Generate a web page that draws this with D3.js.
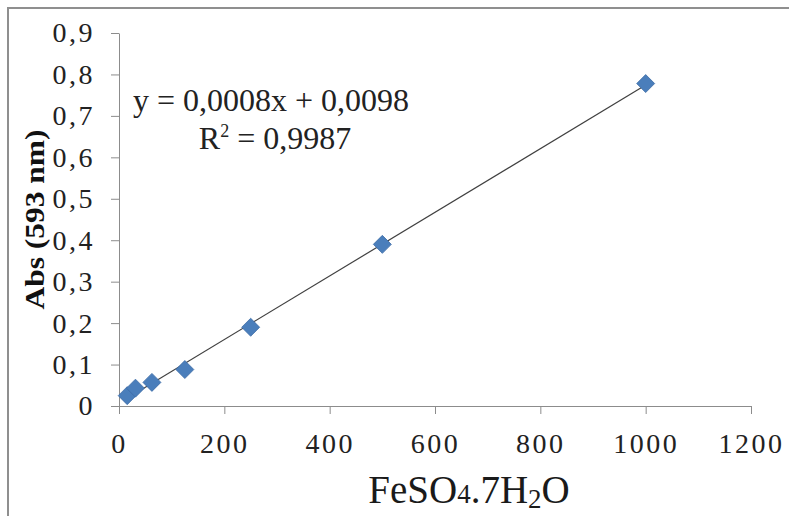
<!DOCTYPE html>
<html>
<head>
<meta charset="utf-8">
<script src="https://cdn.jsdelivr.net/npm/d3@7"></script>
<style>
  body { margin: 0; background: #fff; }
  svg text { font-family: "Liberation Serif", serif; }
</style>
</head>
<body>
<svg class="chart" width="789" height="516"></svg>
<script>
// datos (curva de calibracion FeSO4)
const concentraciones = [15.6, 31.25, 62.5, 125, 250, 500, 1000]
const absorbancias = [0.025, 0.043, 0.057, 0.088, 0.19, 0.39, 0.778]
const xTicks = [0, 200, 400, 600, 800, 1000, 1200]
const yTicks = [0, 0.1, 0.2, 0.3, 0.4, 0.5, 0.6, 0.7, 0.8, 0.9]
const ecuacion = "y = 0,0008x + 0,0098"
const r2 = "0,9987"

const data = concentraciones.map((c, i) => ({ x: c, y: absorbancias[i] }))
const serif = "Liberation Serif"

const svg = d3.select(".chart")

// marco gris de la imagen
svg.append("rect")
  .attr("x", 8).attr("y", 8)
  .attr("width", 800).attr("height", 520)
  .attr("fill", "none")
  .attr("stroke", "#8f8f8f")
  .attr("stroke-width", 2)

const xScale = d3.scaleLinear().domain([0, 1200]).range([119, 751])
const yScale = d3.scaleLinear().domain([0, 0.9]).range([406, 33])

const coma = d => d === 0 ? "0" : d3.format(".1f")(d).replace(".", ",")

const xAxis = svg.append("g")
  .attr("transform", `translate(0, ${yScale(0)})`)
  .call(d3.axisBottom(xScale).tickValues(xTicks).tickFormat(d3.format("d"))
    .tickSize(8).tickSizeOuter(0).tickPadding(19))
xAxis.attr("font-family", serif).attr("font-size", 28)
xAxis.select(".domain").attr("stroke", "#8c8c8c")
xAxis.selectAll(".tick line").attr("stroke", "#8c8c8c")
xAxis.selectAll("text").attr("fill", "#222").style("letter-spacing", "2.5px")

const yAxis = svg.append("g")
  .attr("transform", `translate(${xScale(0)}, 0)`)
  .call(d3.axisLeft(yScale).tickValues(yTicks).tickFormat(coma)
    .tickSize(8).tickSizeOuter(0).tickPadding(16))
yAxis.attr("font-family", serif).attr("font-size", 28)
yAxis.select(".domain").attr("stroke", "#8c8c8c")
yAxis.selectAll(".tick line").attr("stroke", "#8c8c8c")
yAxis.selectAll("text").attr("fill", "#222").style("letter-spacing", "2.5px")

// linea de tendencia (minimos cuadrados sobre los puntos)
const mx = d3.mean(data, d => d.x), my = d3.mean(data, d => d.y)
const m = d3.sum(data, d => (d.x - mx) * (d.y - my)) / d3.sum(data, d => (d.x - mx) ** 2)
const b = my - m * mx
const xExt = d3.extent(data, d => d.x)

svg.append("line")
  .attr("x1", xScale(xExt[0])).attr("y1", yScale(m * xExt[0] + b))
  .attr("x2", xScale(xExt[1])).attr("y2", yScale(m * xExt[1] + b))
  .attr("stroke", "#404040")
  .attr("stroke-width", 1.2)

// rombos azules
svg.selectAll(".punto")
  .data(data)
  .join("path")
  .attr("class", "punto")
  .attr("transform", d => `translate(${xScale(d.x)}, ${yScale(d.y)})`)
  .attr("d", "M0,-9L9,0L0,9L-9,0Z")
  .attr("fill", "#4a7ebb")
  .attr("stroke", "#3d6ca6")
  .attr("stroke-width", 0.8)

// ecuacion y R2
svg.append("text")
  .attr("x", 271).attr("y", 111)
  .attr("text-anchor", "middle")
  .attr("font-family", serif)
  .attr("font-size", 32)
  .attr("fill", "#222")
  .text(ecuacion)

const r2Text = svg.append("text")
  .attr("x", 275).attr("y", 149)
  .attr("text-anchor", "middle")
  .attr("font-family", serif)
  .attr("font-size", 32)
  .attr("fill", "#222")
r2Text.append("tspan").text("R")
r2Text.append("tspan").attr("font-size", 18).attr("dy", -12).text("2")
r2Text.append("tspan").attr("dy", 12).text(" = " + r2)

// titulos de ejes
svg.append("text")
  .attr("transform", "rotate(-90)")
  .attr("x", -yScale(0.45))
  .attr("y", 44)
  .attr("text-anchor", "middle")
  .attr("font-family", serif)
  .attr("font-size", 27)
  .attr("font-weight", "bold")
  .attr("fill", "#111")
  .attr("textLength", 180)
  .attr("lengthAdjust", "spacingAndGlyphs")
  .text("Abs (593 nm)")

const xTitle = svg.append("text")
  .attr("x", 469).attr("y", 503)
  .attr("text-anchor", "middle")
  .attr("font-family", serif)
  .attr("font-size", 39)
  .attr("fill", "#1a1a1a")
xTitle.append("tspan").text("FeSO")
xTitle.append("tspan").attr("font-size", 27).text("4")
xTitle.append("tspan").text(".7H")
xTitle.append("tspan").attr("font-size", 27).attr("dy", 5).text("2")
xTitle.append("tspan").attr("dy", -5).text("O")
</script>
</body>
</html>
